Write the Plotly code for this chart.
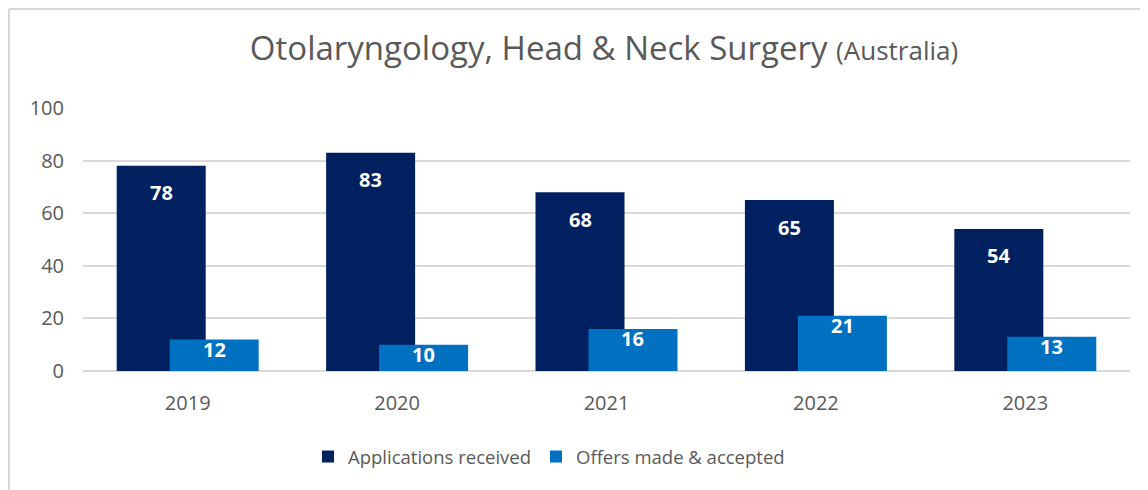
import plotly.graph_objects as go

years = ["2019", "2020", "2021", "2022", "2023"]
applications = [78, 83, 68, 65, 54]
offers = [12, 10, 16, 21, 13]
series_names = ["Applications received", "Offers made & accepted"]
y_ticks = [0, 20, 40, 60, 80, 100]

NAVY = "#002060"
BLUE = "#0070C0"
GRAY_TXT = "#595959"
GRID = "#d9d9d9"
FONT = "Open Sans, Lato, sans-serif"

W, H = 1140, 482
L, R, T, B = 75, 18, 100, 119
BW = 0.425
OFF = 0.1265

fig = go.Figure()
fig.add_trace(go.Bar(x=years, y=applications, name=series_names[0], marker_color=NAVY,
                     marker_line_width=0, width=BW, offset=-OFF - BW / 2, hoverinfo="y"))
fig.add_trace(go.Bar(x=years, y=offers, name=series_names[1], marker_color=BLUE,
                     marker_line_width=0, width=BW, offset=OFF - BW / 2, hoverinfo="y"))

ann = []
for i, (a, o) in enumerate(zip(applications, offers)):
    ann.append(dict(x=i - OFF, y=a, text=f"<b>{a}</b>", showarrow=False, yshift=-27,
                    font=dict(family=FONT, size=20, color="white"), xref="x", yref="y"))
    ann.append(dict(x=i + OFF, y=o, text=f"<b>{o}</b>", showarrow=False, yshift=-10,
                    font=dict(family=FONT, size=20, color="white"), xref="x", yref="y"))

pw = W - L - R
ph = H - T - B
x_left = (1 - L) / pw
y_top = 1 + (T - 1) / ph
fig.update_layout(
    template="none",
    width=W, height=H,
    margin=dict(l=L, r=R, t=T, b=B, autoexpand=False),
    paper_bgcolor="white", plot_bgcolor="white",
    barmode="overlay",
    font=dict(family=FONT, color=GRAY_TXT),
    title=dict(text="Otolaryngology, Head & Neck Surgery <span style='font-size:26px'>(Australia)</span>",
               x=(596 / W), xanchor="center", y=1 - 40 / H, yanchor="middle",
               font=dict(family=FONT, size=33, color=GRAY_TXT)),
    xaxis=dict(type="category", range=[-0.5, 4.5], showgrid=False, showline=False, automargin=False,
               ticks="", tickfont=dict(size=20, color=GRAY_TXT), ticklabelstandoff=18),
    yaxis=dict(range=[0, 100], tickvals=y_ticks, showgrid=True, gridcolor=GRID, gridwidth=2,
               automargin=False,
               zeroline=True, zerolinecolor=GRID, zerolinewidth=2, showline=False, ticks="",
               tickfont=dict(size=20, color=GRAY_TXT), ticklabelstandoff=18),
    legend=dict(orientation="h", xref="container", yref="container", x=541 / W, xanchor="center",
                y=1 - 449 / H, yanchor="middle", font=dict(size=18.5, color=GRAY_TXT),
                bgcolor="rgba(0,0,0,0)"),
    annotations=ann,
    shapes=[
        dict(type="line", xref="paper", yref="paper", x0=x_left, x1=1 + (R + 20) / pw,
             y0=y_top, y1=y_top, line=dict(color=GRID, width=2), layer="below"),
        dict(type="line", xref="paper", yref="paper", x0=x_left, x1=x_left,
             y0=y_top, y1=-(B + 20) / ph, line=dict(color=GRID, width=2), layer="below"),
    ],
    showlegend=True,
)
fig.write_html("out.html")
